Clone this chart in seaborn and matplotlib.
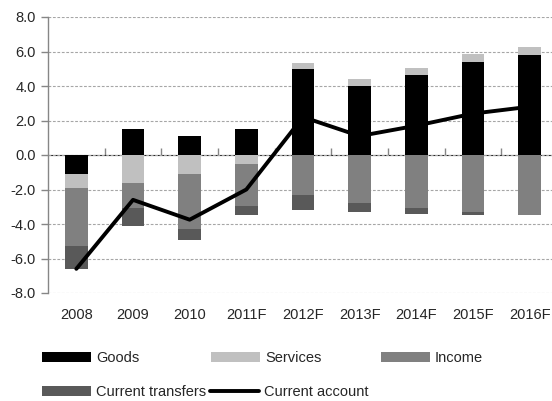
import numpy as np
import pandas as pd
import matplotlib
matplotlib.use("Agg")
import matplotlib.pyplot as plt
from matplotlib.patches import Patch
from matplotlib.lines import Line2D
import seaborn as sns

# Current account components, % of GDP
years = ["2008", "2009", "2010", "2011F", "2012F", "2013F", "2014F", "2015F", "2016F"]
goods = [-1.1, 1.5, 1.1, 1.5, 5.0, 4.0, 4.65, 5.4, 5.8]
services = [-0.8, -1.6, -1.1, -0.55, 0.35, 0.4, 0.4, 0.45, 0.45]
income = [-3.4, -1.45, -3.2, -2.4, -2.3, -2.8, -3.05, -3.3, -3.5]
transfers = [-1.3, -1.05, -0.6, -0.55, -0.9, -0.5, -0.35, -0.2, 0.0]
current_account = [-6.6, -2.6, -3.75, -2.0, 2.2, 1.1, 1.7, 2.4, 2.8]

series_names = ["Goods", "Services", "Income", "Current transfers"]
series_values = [goods, services, income, transfers]
series_colors = ["#000000", "#c0c0c0", "#808080", "#595959"]
line_name = "Current account"

sns.set_style("white")
plt.rcParams["font.family"] = ["Liberation Sans", "DejaVu Sans"]
text_color = "#262626"
axis_gray = "#868686"

fig = plt.figure(figsize=(5.52, 4.01), dpi=100)
ax = fig.add_axes([48 / 552, 108 / 401, 510 / 552, 276 / 401])

# stacked bars: positives build upward from zero, negatives downward
pos_base = np.zeros(len(years))
neg_base = np.zeros(len(years))
for name, vals, col in zip(series_names, series_values, series_colors):
    v = np.asarray(vals, dtype=float)
    base = np.where(v >= 0, pos_base, neg_base)
    df = pd.DataFrame({"year": years, "value": v})
    sns.barplot(data=df, x="year", y="value", order=years, color=col,
                width=0.4, errorbar=None, bottom=base, linewidth=0,
                saturation=1, ax=ax, zorder=2)
    pos_base = pos_base + np.where(v > 0, v, 0)
    neg_base = neg_base + np.where(v < 0, v, 0)

# current account balance line over the bars
sns.lineplot(x=np.arange(len(years)), y=current_account, color="black",
             linewidth=2.8, ax=ax, zorder=4)

ax.set_xlim(-0.5, len(years) - 0.5)
ax.set_ylim(-8, 8)
ax.set_yticks(np.arange(-8, 8.1, 2))
ax.set_yticklabels([f"{t:.1f}" for t in np.arange(-8, 8.1, 2)])
ax.set_xticks(np.arange(len(years)))
ax.set_xticklabels(years)
ax.set_xlabel("")
ax.set_ylabel("")

ax.grid(axis="y", color="#a6a6a6", linestyle=(0, (2.5, 1.5)), linewidth=0.8, zorder=0)
ax.grid(axis="x", visible=False)
ax.set_axisbelow(True)

for side in ["top", "right", "bottom"]:
    ax.spines[side].set_visible(False)
ax.spines["left"].set_color(axis_gray)
ax.spines["left"].set_linewidth(1.0)

ax.tick_params(axis="y", direction="out", length=5, width=1, color=axis_gray,
               labelsize=10.5, labelcolor=text_color, pad=4, left=True)
ax.tick_params(axis="x", length=0, labelsize=10.5, labelcolor=text_color, pad=11)

# zero line with category-boundary ticks
zero_axis = ax.secondary_xaxis(0.5)
zero_axis.set_xticks(np.arange(0.5, len(years) - 0.5, 1.0))
zero_axis.set_xticklabels([])
zero_axis.tick_params(direction="out", length=5, width=1, color=axis_gray)
zero_axis.spines["bottom"].set_color(axis_gray)
zero_axis.spines["bottom"].set_linewidth(1.0)

# legend entries laid out in two rows
handles = [Patch(facecolor=c, edgecolor="none") for c in series_colors]
handles.append(Line2D([0], [0], color="black", linewidth=2.8))
labels = series_names + [line_name]
slots = [(41.7, 357.7), (211, 357.7), (381, 357.7), (41.7, 392.5), (210, 392.5)]
for h, lab, (px, py) in zip(handles, labels, slots):
    leg = fig.legend([h], [lab], loc="center left",
                     bbox_to_anchor=(px / 552, 1 - py / 401),
                     frameon=False, borderpad=0, borderaxespad=0,
                     handlelength=3.36, handleheight=0.69, handletextpad=0.35,
                     fontsize=10.5, labelcolor=text_color)

fig.savefig("out.png", dpi=100)
